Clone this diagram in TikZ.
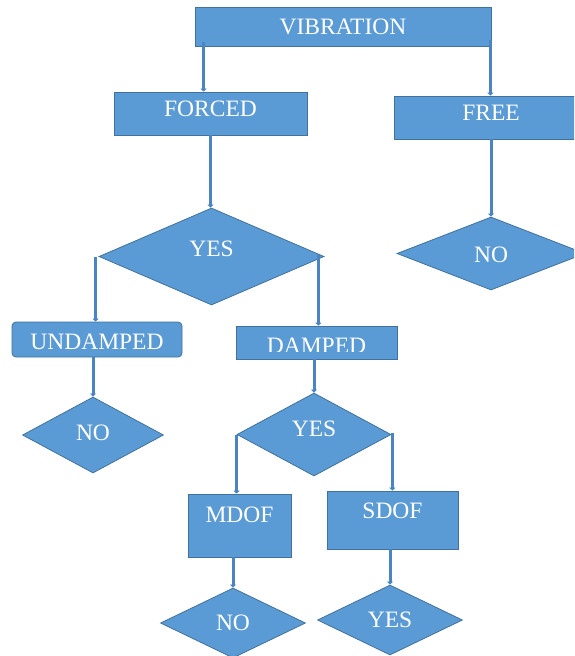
\documentclass[tikz,border=0pt]{standalone}
\usepackage{fontspec}
\setmainfont{Liberation Serif}
\usetikzlibrary{shapes.geometric,arrows.meta}
\definecolor{fillblue}{HTML}{5B9BD5}
\definecolor{edgeblue}{HTML}{41719C}
\definecolor{connblue}{HTML}{4A84C2}
\begin{document}
\begin{tikzpicture}[x=1pt,y=-1pt,
  base/.style={fill=fillblue,draw=edgeblue,line width=0.8pt,text=white,inner sep=0pt,
    font=\fontsize{23.5}{23.5}\selectfont,text height=15.6pt,text depth=0pt},
  box/.style={base,rectangle},
  dia/.style={base,diamond},
  conn/.style={draw=connblue,line width=3pt,-{Triangle[width=6pt,length=3pt]}},
  lbl/.style={text=white,inner sep=0pt,font=\fontsize{23.5}{23.5}\selectfont,text depth=0pt}]
\useasboundingbox (0,0) rectangle (574,656);
\clip (0,0) rectangle (574,656);
% boxes
\node[box,minimum width=296pt,minimum height=39pt] (vib) at (343,26.5) {VIBRATION};
\node[box,minimum width=193pt,minimum height=43pt,text depth=9pt] (forced) at (210.5,113.5) {FORCED};
\node[box,minimum width=194pt,minimum height=43pt,text depth=9pt] (free) at (491,117.5) {FREE};
\node[box,rounded corners=4pt,minimum width=170pt,minimum height=35pt,text height=20.6pt] (undamped) at (97,339.5) {UNDAMPED};
\node[box,minimum width=161pt,minimum height=33pt] (damped) at (316.5,342.5) {};
\begin{scope}
  \clip (damped.north west) rectangle ([yshift=8pt]damped.south east);
  \node[lbl,text height=21.6pt] (dampedtxt) at (damped.center) {DAMPED};
\end{scope}
\node[box,minimum width=103pt,minimum height=63pt,text depth=21pt] (mdof) at (239.5,525.5) {MDOF};
\node[box,minimum width=131pt,minimum height=58pt,text depth=18pt] (sdof) at (392.5,520) {SDOF};
% diamonds
\node[dia,aspect=2.32,minimum width=225pt,minimum height=97pt,text depth=15pt] (yes1) at (211.5,256.5) {YES};
\node[dia,aspect=2.58,minimum width=188pt,minimum height=73pt,text height=18.6pt] (no1) at (491,253.5) {NO};
\node[dia,aspect=1.86,minimum width=141pt,minimum height=76pt,text depth=4pt] (no2) at (93,435) {NO};
\node[dia,aspect=1.86,minimum width=154pt,minimum height=83pt,text depth=11pt] (yes2) at (314,434.5) {YES};
\node[dia,aspect=2.07,minimum width=145pt,minimum height=70pt] (no3) at (233,623) {NO};
\node[dia,aspect=2.07,minimum width=145pt,minimum height=70pt] (yes3) at (390,620) {YES};
% connectors
\draw[conn] ([xshift=9pt,yshift=4pt]vib.south west) -- ([xshift=9pt]vib.south west |- forced.north);
\draw[conn] ([xshift=-1pt,yshift=6pt]vib.south east) -- ([xshift=-1pt]vib.south east |- free.north);
\draw[conn] (forced.south) -- (forced.south |- yes1.north);
\draw[conn] (free.south) -- (free.south |- no1.north);
\draw[conn] ([xshift=-3pt]yes1.west) -- ([xshift=-3pt]yes1.west |- undamped.north);
\draw[conn] ([xshift=-6pt,yshift=2pt]yes1.east) -- ([xshift=-6pt]yes1.east |- damped.north);
\draw[conn] (undamped.south -| no2.north) -- (no2.north);
\draw[conn] (damped.south -| yes2.north) -- (yes2.north);
\draw[conn] (yes2.west) -- (yes2.west |- mdof.north);
\draw[conn] ([xshift=1pt,yshift=2pt]yes2.east) -- ([xshift=1pt]yes2.east |- sdof.north);
\draw[conn] (mdof.south -| no3.north) -- (no3.north);
\draw[conn] (sdof.south -| yes3.north) -- (yes3.north);
\end{tikzpicture}
\end{document}
